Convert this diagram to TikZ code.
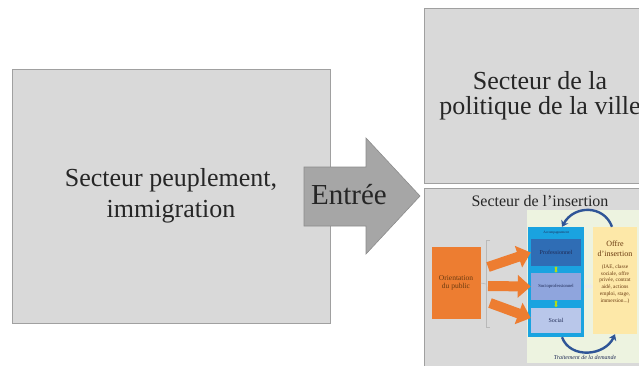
\documentclass[tikz,border=0pt]{standalone}
\usepackage{fontspec}
\setmainfont{Liberation Serif}
\usetikzlibrary{arrows.meta,positioning}
\definecolor{boxgray}{HTML}{D9D9D9}
\definecolor{edgegray}{HTML}{A0A0A0}
\definecolor{arrowgray}{HTML}{A6A6A6}
\definecolor{txtgray}{HTML}{262626}
\definecolor{insgreen}{HTML}{EDF3E0}
\definecolor{accblue}{HTML}{1AA3E0}
\definecolor{problue}{HTML}{2F6DB5}
\definecolor{socioblue}{HTML}{8FA5DD}
\definecolor{socblue}{HTML}{B9C7EA}
\definecolor{orpub}{HTML}{ED7D31}
\definecolor{offyellow}{HTML}{FDE8A8}
\definecolor{arcblue}{HTML}{2F5597}
\definecolor{navytxt}{HTML}{1F2A55}
\definecolor{browntxt}{HTML}{6A3A10}

\begin{document}
\begin{tikzpicture}[x=1pt,y=-1pt,
  sector/.style={rectangle, draw=edgegray, line width=0.8pt, fill=boxgray,
                 align=center, text=txtgray, inner sep=0pt},
  inbox/.style={rectangle, inner sep=0pt, align=center},
  orarrow/.style={draw=orpub, line width=10pt, -{Triangle[width=22pt,length=13pt]}},
  arcarrow/.style={draw=arcblue, line width=2.4pt, -{Stealth[width=8pt,length=6pt]}},
  greenarrow/.style={draw=yellow!70!green, line width=2pt, {Latex[length=2pt,width=4pt]}-{Latex[length=2pt,width=4pt]}}]
\useasboundingbox (0,0) rectangle (639,365);
\clip (0,0) rectangle (639,365);

% the three sectors
\node[sector, font=\fontsize{26}{31}\selectfont, minimum width=318pt, minimum height=254pt] (peup) at (171,196)
  {Secteur peuplement,\\immigration};
\node[sector, font=\fontsize{26}{25}\selectfont, minimum width=232pt, minimum height=175pt] (ville) at (540,96)
  {Secteur de la\\politique de la ville};
\node[sector, minimum width=232pt, minimum height=204pt] (insert) at (540,290) {};

% entry arrow
\fill[arrowgray, draw=gray!90, line width=0.6pt] (304,167) -- (366,167) -- (366,138) -- (420,196)
  -- (366,254) -- (366,226) -- (304,226) -- cycle;
\node[text=txtgray, font=\fontsize{29}{30}\selectfont] (entree) at (349,195) {Entrée};

% inset: secteur de l'insertion
\node[text=txtgray, font=\fontsize{16}{17}\selectfont] (instit) at (540,201) {Secteur de l'insertion};
\node[inbox, fill=insgreen, minimum width=120pt, minimum height=153pt] (panel) at (587,286.5) {};

\node[inbox, fill=orpub, text=browntxt, minimum width=49pt, minimum height=72pt,
      font=\fontsize{7.5}{8.5}\selectfont] (orient) at (456,283) {Orientation\\du public};
\draw[gray!55, line width=0.6pt] (490,240) -- (486,240) -- (486,327) -- (490,327);
\coordinate (brk) at (486,284);
\draw[gray!55, line width=0.6pt] (orient.east) -- (brk);

\node[inbox, fill=accblue, minimum width=56pt, minimum height=110pt] (accomp) at (556,282) {};
\node[text=navytxt, font=\fontsize{3.5}{4}\selectfont] (acclab) at (556,233) {Accompagnement};
\node[inbox, fill=problue, text=navytxt, minimum width=50pt, minimum height=27pt,
      font=\fontsize{6}{7}\selectfont] (prof) at (556,252.5) {Professionnel};
\node[inbox, fill=socioblue, text=navytxt, minimum width=50pt, minimum height=27pt,
      font=\fontsize{4.6}{5}\selectfont] (socio) at (556,286.5) {Socioprofessionnel};
\node[inbox, fill=socblue, text=navytxt, minimum width=50pt, minimum height=25pt,
      font=\fontsize{6}{7}\selectfont] (social) at (556,320) {Social};
\draw[greenarrow] (prof) -- (socio);
\draw[greenarrow] (socio) -- (social);

\node[inbox, fill=offyellow, minimum width=44pt, minimum height=107pt] (offre) at (615,280.5) {};
\node[text=browntxt, align=center, font=\fontsize{8}{9.5}\selectfont, below=11pt of offre.north]
  (offtit) {Offre\\d'insertion};
\node[text=browntxt, align=center, font=\fontsize{5.4}{6.8}\selectfont, below=1pt of offtit]
  (offdet) {(IAE, classe\\sociale, offre\\privée, contrat\\aidé, actions\\emploi, stage,\\immersion...)};
\draw[draw=white!85!gray, line width=2.5pt, {Latex[length=3pt,width=6pt]}-{Latex[length=3pt,width=6pt]}]
  (accomp.east |- socio) -- (offre.west |- socio);

% entry flows
\coordinate (o1) at (488,267);
\coordinate (o2) at (488,286);
\coordinate (o3) at (490,303);
\draw[orarrow] (o1) -- (prof.west);
\draw[orarrow] (o2) -- (socio.west);
\draw[orarrow] (o3) -- ([yshift=2pt]social.west);

% treatment loop
\draw[arcarrow] ([xshift=-3pt]offre.north) .. controls +(-8,-22) and +(12,-22) .. ([xshift=6pt]accomp.north);
\draw[arcarrow] ([xshift=6pt]accomp.south) .. controls +(8,22) and +(-10,22) .. ([xshift=0pt]offre.south);
\node[text=navytxt, font=\itshape\fontsize{6}{7}\selectfont] (trait) at (585,357) {Traitement de la demande};
\end{tikzpicture}
\end{document}
